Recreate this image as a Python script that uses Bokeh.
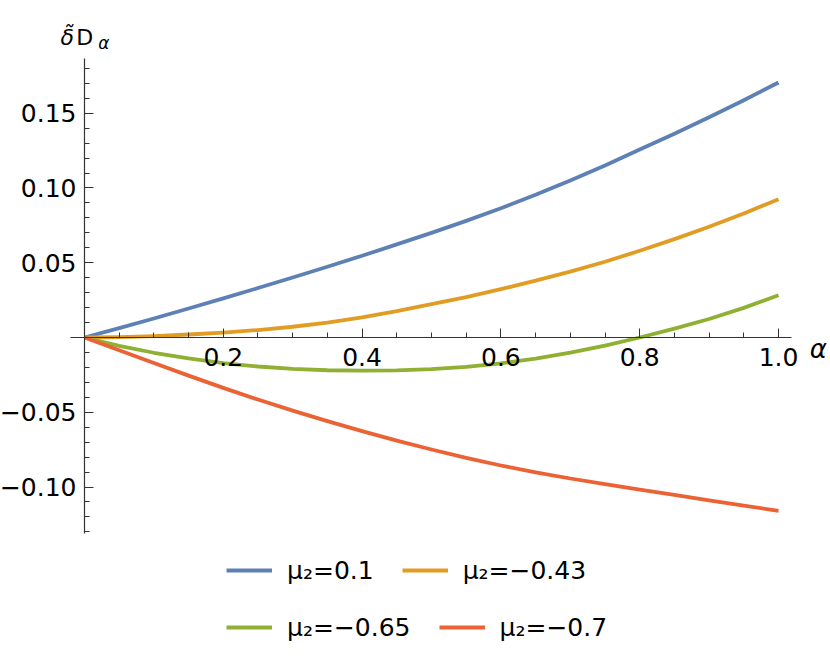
import numpy as np
from bokeh.plotting import figure
from bokeh.models import (FixedTicker, CustomJSTickFormatter, Label, Legend,
                          LegendItem, Range1d)
from bokeh.embed import file_html
from bokeh.resources import INLINE

# ---- data ----
alpha = [0.0, 0.05, 0.1, 0.15, 0.2, 0.25, 0.3, 0.35, 0.4, 0.45, 0.5,
         0.55, 0.6, 0.65, 0.7, 0.75, 0.8, 0.85, 0.9, 0.95, 1.0]
d_mu_0p1 = [0.0, 0.0063, 0.0127, 0.0194, 0.0262, 0.0331, 0.0401, 0.0473, 0.0547, 0.0623, 0.0700,
            0.0780, 0.0864, 0.0955, 0.1050, 0.1151, 0.1257, 0.1363, 0.1473, 0.1587, 0.1706]
d_mu_m0p43 = [0.0, 0.0002, 0.0009, 0.0020, 0.0033, 0.0050, 0.0072, 0.0100, 0.0135, 0.0176, 0.0223,
              0.0270, 0.0323, 0.0380, 0.0441, 0.0507, 0.0580, 0.0658, 0.0741, 0.0830, 0.0925]
d_mu_m0p65 = [0.0, -0.0056, -0.0102, -0.0140, -0.0171, -0.0194, -0.0210, -0.0219, -0.0222, -0.0220, -0.0211,
              -0.0196, -0.0173, -0.0141, -0.0101, -0.0054, 0.0000, 0.0060, 0.0124, 0.0198, 0.0283]
d_mu_m0p7 = [0.0, -0.0085, -0.0170, -0.0255, -0.0337, -0.0415, -0.0489, -0.0559, -0.0626, -0.0690, -0.0749,
             -0.0805, -0.0856, -0.0902, -0.0943, -0.0981, -0.1017, -0.1053, -0.1089, -0.1124, -0.1159]

series_labels = ["μ₂=0.1", "μ₂=−0.43", "μ₂=−0.65", "μ₂=−0.7"]
series_colors = ["#5E81B5", "#E19C24", "#8FB032", "#EB6235"]

x_major = [0.2, 0.4, 0.6, 0.8, 1.0]
y_major = [-0.10, -0.05, 0.05, 0.10, 0.15]

FONT = "DejaVu Sans"

W, H = 830, 664
p = figure(width=W, height=H,
           min_border_left=0, min_border_right=0,
           min_border_top=0, min_border_bottom=0,
           x_range=Range1d(-0.1210, 1.0749), y_range=Range1d(-0.2187, 0.2254),
           output_backend="svg", toolbar_location=None)
p.grid.visible = False
p.outline_line_color = None
p.border_fill_color = "white"

renderers = []
for ys, col in zip([d_mu_0p1, d_mu_m0p43, d_mu_m0p65, d_mu_m0p7], series_colors):
    r = p.line(alpha, ys, line_color=col, line_width=3.8, line_join="round")
    renderers.append(r)

# axes crossing at the origin
axis_col = "#333333"
p.xaxis.fixed_location = 0
p.yaxis.fixed_location = 0
p.xaxis.bounds = (-0.02, 1.019)
p.yaxis.bounds = (-0.1311, 0.1866)
p.xaxis.ticker = FixedTicker(ticks=x_major,
                             minor_ticks=list(np.round(np.arange(0.05, 1.0001, 0.05), 3)))
p.xaxis.formatter = CustomJSTickFormatter(code="return tick.toFixed(1);")
p.yaxis.ticker = FixedTicker(ticks=y_major,
                             minor_ticks=list(np.round(np.arange(-0.13, 0.1801, 0.01), 3)))
p.yaxis.formatter = CustomJSTickFormatter(
    code="return tick.toFixed(2).replace('-', '\u2212');")
for ax in (p.xaxis, p.yaxis):
    ax.axis_line_color = axis_col
    ax.axis_line_width = 1.2
    ax.major_tick_line_color = axis_col
    ax.minor_tick_line_color = axis_col
    ax.major_tick_in = 9
    ax.major_tick_out = 0
    ax.minor_tick_in = 5
    ax.minor_tick_out = 0
    ax.major_label_text_font = FONT
    ax.major_label_text_font_size = "25px"
    ax.major_label_text_color = "black"
p.xaxis.major_label_standoff = 10
p.yaxis.major_label_standoff = 8

# axis labels
p.add_layout(Label(x=-0.0346, y=0.2007, text="δ̃", text_font=FONT,
                   text_font_size="22px", text_font_style="italic",
                   text_color="black", text_baseline="alphabetic"))
p.add_layout(Label(x=-0.0120, y=0.2007, text="D", text_font=FONT,
                   text_font_size="22px", text_color="black",
                   text_baseline="alphabetic"))
p.add_layout(Label(x=0.0200, y=0.1970, text="α", text_font=FONT,
                   text_font_size="17px", text_font_style="italic",
                   text_color="black", text_baseline="alphabetic"))
p.add_layout(Label(x=1.045, y=-0.0074, text="α", text_font=FONT,
                   text_font_size="26px", text_font_style="italic",
                   text_color="black", text_baseline="alphabetic"))

# legends (two rows)
def make_legend(idx, loc):
    items = [LegendItem(label=series_labels[i], renderers=[renderers[i]]) for i in idx]
    return Legend(items=items, orientation="horizontal", location=loc,
                  label_text_font=FONT, label_text_font_size="25px",
                  label_text_color="black",
                  glyph_width=46, glyph_height=30, label_standoff=15,
                  spacing=28, padding=0, margin=0,
                  border_line_alpha=0, background_fill_alpha=0)

p.add_layout(make_legend([0, 1], (226, 79)), "center")
p.add_layout(make_legend([2, 3], (226, 22)), "center")

open("out.html", "w").write(file_html(p, INLINE))
